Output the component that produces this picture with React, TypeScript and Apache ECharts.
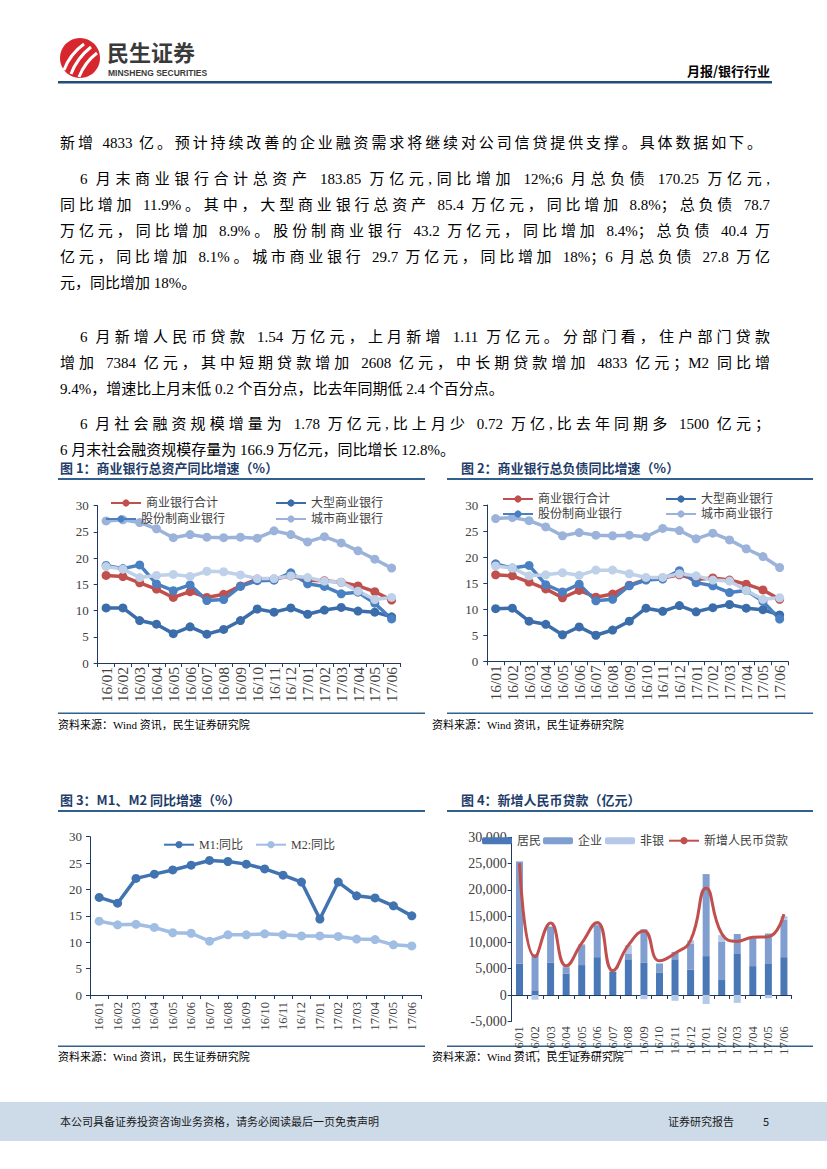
import React, { useEffect, useRef } from "react";
import * as echarts from "echarts";

const months = ["16/01","16/02","16/03","16/04","16/05","16/06","16/07","16/08","16/09","16/10","16/11","16/12","17/01","17/02","17/03","17/04","17/05","17/06"];

// 图1 总资产同比 (%)
const assetTotal = [16.7,16.5,15.3,14.1,12.5,13.6,12.5,13.1,14.7,16.0,16.0,16.6,15.8,15.7,15.4,14.7,13.6,12.0];
const assetLarge = [10.5,10.5,8.1,7.4,5.6,6.9,5.5,6.4,8.1,10.3,9.7,10.5,9.3,10.1,10.6,9.9,9.7,8.8];
const assetJoint = [18.6,18.0,18.7,15.1,13.8,14.9,11.9,12.1,14.6,15.7,15.8,17.2,15.1,14.6,13.2,13.5,11.4,8.4];
const assetCity = [27.1,27.3,26.8,25.6,23.9,24.5,24.0,23.9,24.0,23.8,25.2,24.5,23.1,24.1,22.9,21.4,19.8,18.1];
const assetRural = [18.4,17.9,16.3,16.7,16.9,16.5,17.5,17.4,16.8,16.1,16.1,16.6,16.3,15.6,15.4,13.7,12.1,12.5];

// 图2 总负债同比 (%)
const liabTotal = [16.6,16.4,15.2,13.9,12.2,13.6,12.3,12.9,14.6,15.7,16.0,16.6,15.7,16.0,15.6,14.8,13.7,11.9];
const liabLarge = [10.1,10.2,7.7,7.1,5.1,6.6,5.0,6.0,7.7,10.2,9.6,10.7,9.5,10.3,10.9,10.2,9.9,8.9];
const liabJoint = [18.7,17.9,18.4,14.7,13.3,14.8,11.6,11.9,14.5,15.6,15.8,17.4,15.1,14.5,13.2,13.6,11.5,8.1];
const liabCity = [27.4,27.6,27.0,25.8,24.1,24.7,24.2,24.1,24.2,23.9,25.5,25.1,23.5,24.6,23.3,21.6,20.1,18.0];
const liabRural = [18.3,17.9,16.4,16.6,17.0,16.5,17.5,17.5,16.8,16.1,16.1,16.8,16.4,15.6,15.4,13.6,11.9,12.2];

// 图3 M1、M2 同比 (%)
const m1Yoy = [18.5,17.4,22.1,22.9,23.7,24.6,25.5,25.3,24.8,23.9,22.7,21.4,14.4,21.4,18.8,18.4,16.9,15.0];
const m2Yoy = [14.0,13.3,13.4,12.8,11.8,11.7,10.2,11.4,11.4,11.6,11.4,11.2,11.2,11.1,10.6,10.5,9.5,9.3];

// 图4 新增人民币贷款 (亿元)
const loanHousehold = [6000,900,6200,4100,5700,7200,4400,6800,6200,4300,6800,4800,7400,2850,7800,5500,5900,7200];
const loanCorporate = [19400,6900,6800,1200,3800,6100,100,1000,6300,1700,1400,5000,15600,7250,3800,5300,5800,7100];
const loanNonBank = [100,-900,100,200,200,200,0,1700,-800,0,-1100,600,-1700,1300,-1500,200,-600,700];
const loanNew = [25100,7266,13700,5556,9855,13800,4636,9487,12200,6513,7946,10400,20300,11700,10200,11000,11100,15400];

const yTicks = { min: 0, max: 30, interval: 5 };
const loanTicks = { min: -5000, max: 30000, interval: 5000 };

const SERIF = "'Liberation Serif', 'Times New Roman', 'Noto Sans CJK SC', serif";
const CJK = "'Liberation Serif', 'Noto Sans CJK SC', sans-serif";
const SANS = "'Noto Sans CJK SC', 'Liberation Sans', sans-serif";
const AX = "#1f3864";
const LBL = "#404040";
const LINE_BLUE = "#31608f";

const C_TOTAL = "#c0504d";
const C_LARGE = "#3c6dab";
const C_JOINT = "#4a80c2";
const C_CITY = "#9bb3da";
const C_RURAL = "#bfd0e9";
const C_M1 = "#4273b1";
const C_M2 = "#a0bde3";
const C_HH = "#4a78b7";
const C_CORP = "#809fd0";
const C_NB = "#b5c8e8";

function catAxis(gridIndex: number, fontSize: number, margin: number) {
  return {
    type: "category",
    gridIndex,
    data: months,
    boundaryGap: true,
    axisLine: { show: true, onZero: true, lineStyle: { color: AX, width: 1 } },
    axisTick: { show: true, length: 4, lineStyle: { color: AX } },
    axisLabel: { rotate: 90, interval: 0, margin, fontSize, fontFamily: SERIF, color: LBL },
    splitLine: { show: false },
  };
}

function valAxis(gridIndex: number, ticks: any, fontSize: number, margin: number, fmt?: any) {
  return {
    type: "value",
    gridIndex,
    min: ticks.min,
    max: ticks.max,
    interval: ticks.interval,
    axisLine: { show: true, lineStyle: { color: AX, width: 1 } },
    axisTick: { show: true, length: 4, lineStyle: { color: AX } },
    axisLabel: { margin, fontSize, fontFamily: SERIF, color: LBL, formatter: fmt },
    splitLine: { show: false },
  };
}

function lineSeries(name: string, data: number[], color: string, axisIndex: number) {
  return {
    type: "line",
    name,
    data,
    xAxisIndex: axisIndex,
    yAxisIndex: axisIndex,
    symbol: "circle",
    symbolSize: 9,
    showSymbol: true,
    lineStyle: { color, width: 3.5 },
    itemStyle: { color },
  };
}

const legendBase = {
  orient: "horizontal",
  itemWidth: 30,
  itemHeight: 9,
  itemGap: 0,
  padding: 0,
  selectedMode: false,
  textStyle: { fontSize: 12, color: LBL, fontFamily: CJK },
};

function leg(name: string, left: number, cy: number, extra: any = {}) {
  return { ...legendBase, ...extra, left, top: cy - 7, data: [name] };
}

function txt(text: string, x: number, y: number, size: number, opts: any = {}) {
  return {
    type: "text",
    x,
    y,
    style: {
      text,
      fontSize: size,
      fontFamily: opts.family || SERIF,
      fontWeight: opts.weight || "normal",
      fill: opts.fill || "#000",
      textAlign: opts.align || "left",
      textVerticalAlign: "middle",
    },
  };
}

function rect(x: number, y: number, w: number, h: number, fill: string) {
  return { type: "rect", shape: { x, y, width: w, height: h }, style: { fill } };
}

const SOURCE = "资料来源：Wind 资讯，民生证券研究院";

const option: any = {
  animation: false,
  grid: [
    { left: 97.7, top: 505.7, width: 302.3, height: 157.3, containLabel: false },
    { left: 487.3, top: 505, width: 300.7, height: 156.3, containLabel: false },
    { left: 90, top: 836.7, width: 331, height: 158.3, containLabel: false },
    { left: 511.7, top: 837.3, width: 280, height: 184, containLabel: false },
  ],
  xAxis: [catAxis(0, 15.5, 4), catAxis(1, 15.5, 4), catAxis(2, 12.5, 7), catAxis(3, 12.5, 5)],
  yAxis: [
    valAxis(0, yTicks, 13, 9),
    valAxis(1, yTicks, 13, 9),
    valAxis(2, yTicks, 13, 8),
    valAxis(3, loanTicks, 14, 5, (v: number) => v.toLocaleString("en-US")),
  ],
  legend: [
    leg("商业银行合计", 110, 504),
    leg("大型商业银行", 275, 504),
    leg("股份制商业银行", 105, 520),
    leg("城市商业银行", 275, 520),
    leg("商业银行合计", 502, 500),
    leg("大型商业银行", 665, 500),
    leg("股份制商业银行", 502, 515),
    leg("城市商业银行", 665, 515),
    leg("M1:同比", 163, 845.7),
    leg("M2:同比", 255, 845.7),
    leg("居民", 482, 841.7, { itemHeight: 7 }),
    leg("企业", 543, 841.7, { itemHeight: 7 }),
    leg("非银", 605, 841.7, { itemHeight: 7 }),
    leg("新增人民币贷款", 668, 841.7),
  ],
  series: [
    lineSeries("商业银行合计", assetTotal, C_TOTAL, 0),
    lineSeries("大型商业银行", assetLarge, C_LARGE, 0),
    lineSeries("股份制商业银行", assetJoint, C_JOINT, 0),
    lineSeries("城市商业银行", assetCity, C_CITY, 0),
    lineSeries("农村商业银行", assetRural, C_RURAL, 0),
    lineSeries("商业银行合计", liabTotal, C_TOTAL, 1),
    lineSeries("大型商业银行", liabLarge, C_LARGE, 1),
    lineSeries("股份制商业银行", liabJoint, C_JOINT, 1),
    lineSeries("城市商业银行", liabCity, C_CITY, 1),
    lineSeries("农村商业银行", liabRural, C_RURAL, 1),
    lineSeries("M1:同比", m1Yoy, C_M1, 2),
    lineSeries("M2:同比", m2Yoy, C_M2, 2),
    { type: "bar", name: "居民", data: loanHousehold, stack: "loan", xAxisIndex: 3, yAxisIndex: 3, barWidth: 7, itemStyle: { color: C_HH } },
    { type: "bar", name: "企业", data: loanCorporate, stack: "loan", xAxisIndex: 3, yAxisIndex: 3, barWidth: 7, itemStyle: { color: C_CORP } },
    { type: "bar", name: "非银", data: loanNonBank, stack: "loan", xAxisIndex: 3, yAxisIndex: 3, barWidth: 7, itemStyle: { color: C_NB } },
    {
      type: "line",
      name: "新增人民币贷款",
      data: loanNew,
      xAxisIndex: 3,
      yAxisIndex: 3,
      smooth: true,
      showSymbol: false,
      symbol: "none",
      lineStyle: { color: C_TOTAL, width: 3 },
      itemStyle: { color: C_TOTAL },
    },
  ],
  graphic: [
    // header
    { type: "circle", shape: { cx: 80, cy: 58, r: 20 }, style: { fill: "#d7262e" } },
    { type: "bezierCurve", shape: { x1: 64, y1: 70, cpx1: 70, cpy1: 54, x2: 84, y2: 44 }, style: { stroke: "#fff", lineWidth: 3, fill: "none" } },
    { type: "bezierCurve", shape: { x1: 71, y1: 74, cpx1: 77, cpy1: 58, x2: 91, y2: 47 }, style: { stroke: "#fff", lineWidth: 3, fill: "none" } },
    { type: "bezierCurve", shape: { x1: 79, y1: 77, cpx1: 85, cpy1: 62, x2: 97, y2: 53 }, style: { stroke: "#fff", lineWidth: 3, fill: "none" } },
    txt("民生证券", 107, 51, 22, { family: SANS, weight: "bold", fill: "#3a3a3a" }),
    txt("MINSHENG SECURITIES", 108, 72.5, 8.5, { family: "'Liberation Sans', sans-serif", weight: "bold", fill: "#3a3a3a" }),
    txt("月报/银行行业", 770, 70, 13, { family: SANS, weight: "bold", align: "right" }),
    rect(58, 81, 714, 2.5, "#1f4e79"),
    // figure titles
    txt("图 1：商业银行总资产同比增速（%）", 60, 467, 13, { family: SANS, weight: "bold", fill: "#1f3d6b" }),
    txt("图 2：商业银行总负债同比增速（%）", 461, 467, 13, { family: SANS, weight: "bold", fill: "#1f3d6b" }),
    txt("图 3：M1、M2 同比增速（%）", 60, 799, 13, { family: SANS, weight: "bold", fill: "#1f3d6b" }),
    txt("图 4：新增人民币贷款（亿元）", 461, 799, 13, { family: SANS, weight: "bold", fill: "#1f3d6b" }),
    rect(58, 478, 367, 2, LINE_BLUE),
    rect(447, 478, 366, 2, LINE_BLUE),
    rect(58, 810, 367, 2, LINE_BLUE),
    rect(447, 810, 366, 2, LINE_BLUE),
    // sources
    rect(58, 712.5, 367, 1.5, LINE_BLUE),
    rect(447, 712.5, 366, 1.5, LINE_BLUE),
    rect(58, 1045.5, 367, 1.5, LINE_BLUE),
    rect(447, 1045.5, 366, 1.5, LINE_BLUE),
    txt(SOURCE, 58, 725, 11),
    txt(SOURCE, 432, 725, 11),
    txt(SOURCE, 58, 1057, 11),
    txt(SOURCE, 432, 1057, 11),
    // footer
    rect(0, 1102, 827, 39, "#cddbe9"),
    txt("本公司具备证券投资咨询业务资格，请务必阅读最后一页免责声明", 60, 1121, 11, { family: SANS, fill: "#1a1a1a" }),
    txt("证券研究报告", 668, 1121, 11, { family: SANS, fill: "#1a1a1a" }),
    txt("5", 763, 1121, 11, { family: SANS, fill: "#1a1a1a" }),
  ],
};

const bodyLines: { t: string; x: number; y: number; w: number; j: boolean }[] = [
  { t: "新增 4833 亿。预计持续改善的企业融资需求将继续对公司信贷提供支撑。具体数据如下。", x: 60, y: 143, w: 702, j: true },
  { t: "6 月末商业银行合计总资产 183.85 万亿元,同比增加 12%;6 月总负债 170.25 万亿元,", x: 80, y: 179, w: 690, j: true },
  { t: "同比增加 11.9%。其中，大型商业银行总资产 85.4 万亿元，同比增加 8.8%；总负债 78.7", x: 60, y: 205, w: 710, j: true },
  { t: "万亿元，同比增加 8.9%。股份制商业银行 43.2 万亿元，同比增加 8.4%；总负债 40.4 万", x: 60, y: 231, w: 710, j: true },
  { t: "亿元，同比增加 8.1%。城市商业银行 29.7 万亿元，同比增加 18%；6 月总负债 27.8 万亿", x: 60, y: 257, w: 710, j: true },
  { t: "元，同比增加 18%。", x: 60, y: 283, w: 710, j: false },
  { t: "6 月新增人民币贷款 1.54 万亿元，上月新增 1.11 万亿元。分部门看，住户部门贷款", x: 80, y: 337, w: 690, j: true },
  { t: "增加 7384 亿元，其中短期贷款增加 2608 亿元，中长期贷款增加 4833 亿元；M2 同比增", x: 60, y: 363, w: 710, j: true },
  { t: "9.4%，增速比上月末低 0.2 个百分点，比去年同期低 2.4 个百分点。", x: 60, y: 389, w: 710, j: false },
  { t: "6 月社会融资规模增量为 1.78 万亿元,比上月少 0.72 万亿,比去年同期多 1500 亿元；", x: 80, y: 424, w: 690, j: true },
  { t: "6 月末社会融资规模存量为 166.9 万亿元，同比增长 12.8%。", x: 60, y: 450, w: 710, j: false },
];

export default function App() {
  const ref = useRef<HTMLDivElement>(null);
  useEffect(() => {
    if (!ref.current) return;
    const chart = echarts.init(ref.current, null, { renderer: "svg" });
    chart.setOption(option);
    return () => chart.dispose();
  }, []);
  return (
    <div style={{ position: "absolute", left: 0, top: 0, width: 827, height: 1169, background: "#fff", overflow: "hidden" }}>
      {bodyLines.map((l, i) => (
        <div
          key={i}
          style={{
            position: "absolute",
            left: l.x,
            top: l.y - 10,
            width: l.w,
            height: 20,
            lineHeight: "20px",
            fontSize: 15,
            fontFamily: SERIF,
            color: "#000",
            textAlign: l.j ? "justify" : "left",
            textAlignLast: l.j ? "justify" : "left",
            textJustify: "inter-character",
          } as any}
        >
          {l.t}
        </div>
      ))}
      <div ref={ref} style={{ position: "absolute", left: 0, top: 0, width: 827, height: 1169 }} />
    </div>
  );
}
